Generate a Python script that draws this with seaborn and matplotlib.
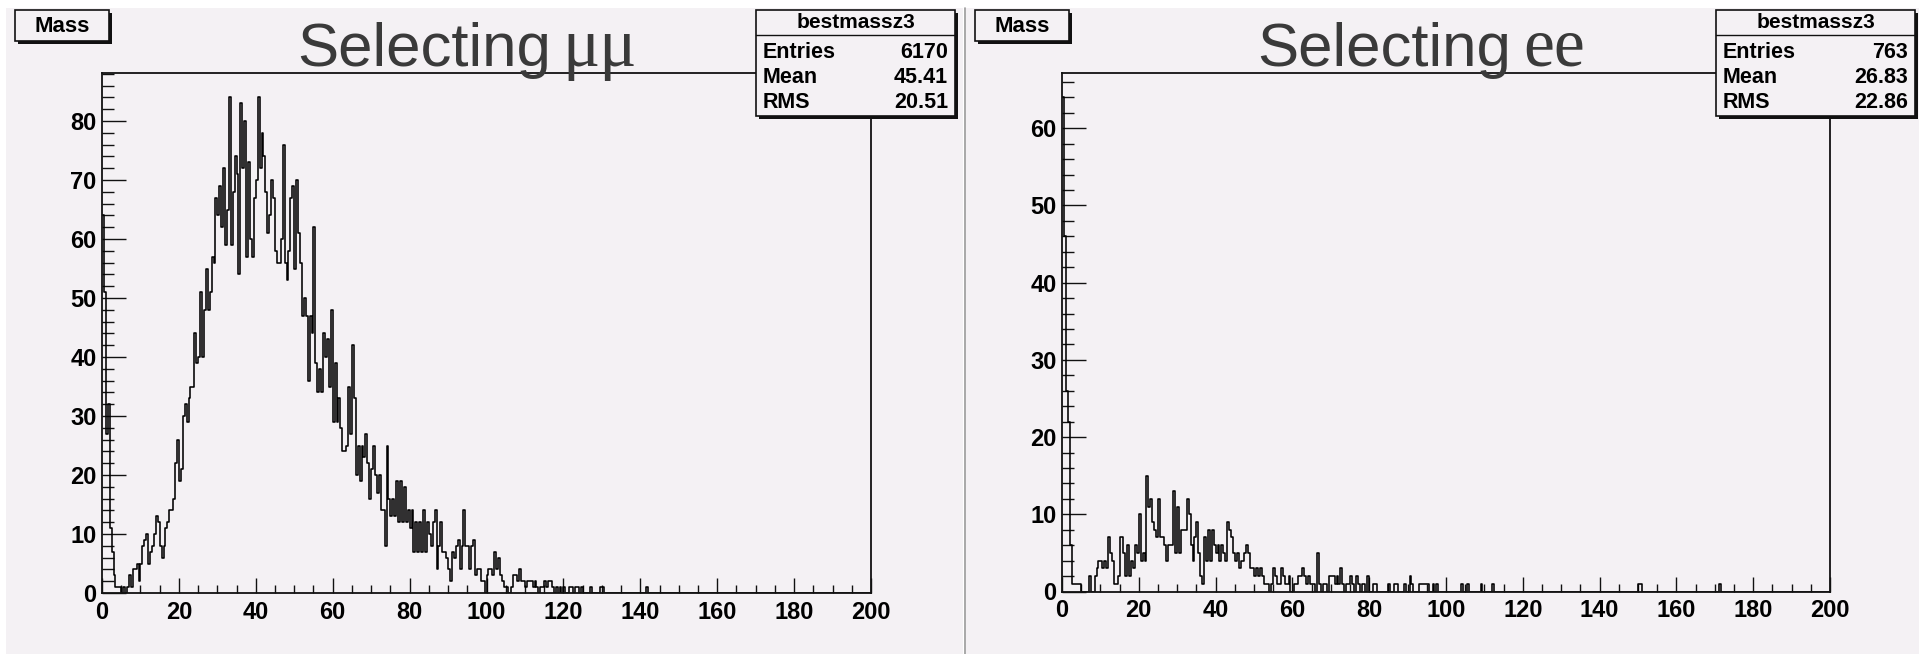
import numpy as np
import matplotlib
matplotlib.use("Agg")
import matplotlib.pyplot as plt
import seaborn as sns
from matplotlib.patches import Rectangle
from matplotlib.lines import Line2D
from matplotlib.ticker import MultipleLocator

# ---------------- data (counts per 0.5-wide bin, starting at 0) ----------------
bin_width = 0.5
x_range = (0, 200)

mumu_counts = [
    64, 51, 27, 32, 11, 7, 3, 1, 1, 1, 0, 1, 0, 1, 3, 1, 4, 4, 5, 2,
    5, 8, 9, 10, 5, 7, 8, 10, 13, 12, 8, 6, 8, 11, 12, 14, 14, 16, 22, 26,
    19, 21, 30, 32, 29, 33, 35, 35, 44, 39, 40, 51, 40, 48, 55, 48, 51, 57, 56, 67,
    64, 69, 62, 72, 59, 65, 84, 59, 68, 74, 71, 54, 83, 72, 80, 57, 73, 60, 57, 67,
    70, 84, 72, 78, 74, 68, 61, 64, 70, 67, 58, 56, 56, 60, 76, 56, 53, 58, 67, 69,
    55, 70, 61, 56, 47, 50, 47, 36, 47, 44, 62, 39, 34, 38, 34, 44, 40, 43, 35, 48,
    29, 39, 29, 33, 28, 24, 24, 25, 35, 27, 42, 33, 20, 25, 19, 25, 23, 27, 22, 16,
    21, 25, 20, 17, 20, 14, 14, 8, 25, 16, 13, 16, 13, 19, 12, 19, 12, 18, 12, 14,
    11, 14, 7, 12, 7, 12, 7, 14, 7, 12, 10, 8, 12, 14, 4, 8, 12, 7, 7, 6,
    4, 2, 7, 6, 8, 9, 4, 8, 14, 8, 8, 4, 8, 9, 3, 4, 4, 2, 2, 0,
    3, 4, 4, 3, 7, 4, 6, 3, 2, 1, 1, 0, 0, 1, 3, 3, 2, 4, 2, 2,
    1, 2, 2, 2, 1, 2, 1, 0, 1, 1, 2, 1, 2, 2, 1, 0, 1, 0, 1, 0,
    1, 0, 0, 1, 1, 0, 1, 1, 0, 1, 0, 0, 0, 0, 1, 0, 0, 0, 0, 1,
    1,
]
mumu_tail = [(141.5, 1)]

ee_counts = [
    64, 46, 26, 22, 6, 1, 1, 1, 1, 1, 0, 0, 0, 0, 2, 0, 0, 2, 3, 4,
    4, 3, 4, 3, 7, 5, 4, 1, 1, 2, 7, 7, 5, 2, 6, 2, 4, 3, 6, 5,
    10, 4, 5, 4, 15, 11, 12, 9, 8, 7, 12, 7, 7, 6, 4, 6, 6, 6, 13, 5,
    11, 5, 8, 8, 8, 12, 10, 6, 4, 7, 9, 5, 2, 1, 7, 4, 8, 4, 8, 6,
    5, 6, 4, 6, 5, 4, 9, 8, 7, 5, 4, 5, 3, 4, 4, 5, 6, 5, 3, 3,
    2, 3, 2, 3, 2, 1, 1, 1, 0, 1, 3, 2, 1, 1, 3, 2, 1, 1, 2, 0,
    0, 1, 1, 2, 2, 3, 2, 1, 2, 1, 1, 1, 0, 5, 1, 0, 1, 1, 0, 2,
    2, 2, 1, 2, 1, 3, 1, 0, 1, 1, 2, 1, 0, 2, 1, 0, 1, 1, 0, 2,
    0, 0, 1, 1, 0, 0, 0, 0, 0, 0, 1, 0, 0, 1, 1, 0, 0, 0, 1, 0,
    0, 2, 1, 0, 0, 0, 1, 1, 1, 1, 1, 0, 0, 1, 0, 1,
]
ee_tail = [(104.0, 1), (105.5, 1), (109.0, 1), (112.0, 1), (150.0, 1), (150.5, 1), (171.0, 1)]

title_main = ["Selecting", "Selecting"]
title_particles = ["\u03bc\u03bc", "ee"]
panel_name = "Mass"
stats_title = "bestmassz3"
stats_labels = ["Entries", "Mean", "RMS"]
mumu_stats = ["6170", "45.41", "20.51"]
ee_stats = ["763", "26.83", "22.86"]
y_tops = [88.2, 67.2]

# ---------------- helpers ----------------
W, H = 1919, 654
BG = "#f4f1f4"
sns.set_style("ticks")
plt.rcParams["font.family"] = ["Liberation Sans", "DejaVu Sans"]

fig = plt.figure(figsize=(W / 100, H / 100), dpi=100, facecolor="white")


def frect(x0, y0, x1, y1):
    return (x0 / W, 1 - y1 / H), (x1 - x0) / W, (y1 - y0) / H


def add_rect(x0, y0, x1, y1, fc, ec="none", lw=0, z=0):
    xy, w, h = frect(x0, y0, x1, y1)
    fig.patches.append(Rectangle(xy, w, h, transform=fig.transFigure,
                                 facecolor=fc, edgecolor=ec, linewidth=lw, zorder=z))


def fx(x):
    return x / W


def fy(y):
    return 1 - y / H


def full_counts(counts, tail):
    n = int(round((x_range[1] - x_range[0]) / bin_width))
    arr = np.zeros(n)
    arr[:len(counts)] = counts
    for edge, c in tail:
        arr[int(round(edge / bin_width))] = c
    return arr


# pads
add_rect(6, 8, 963, 654, BG, z=-5)
add_rect(966, 8, 1919, 654, BG, z=-5)
fig.lines.append(Line2D([fx(964.5), fx(964.5)], [fy(8), fy(654)], transform=fig.transFigure,
                        color="#9a9a9a", linewidth=1.2, zorder=-4))

datasets = [(mumu_counts, mumu_tail, mumu_stats), (ee_counts, ee_tail, ee_stats)]
axes_px = [(102, 72.7, 871, 593), (1062, 72.7, 1830, 591.5)]
offsets = [0, 960]

edges = np.linspace(x_range[0], x_range[1], int(round((x_range[1] - x_range[0]) / bin_width)) + 1)
centers = edges[:-1] + bin_width / 2

for i, (counts, tail, stats) in enumerate(datasets):
    x0, y0, x1, y1 = axes_px[i]
    ax = fig.add_axes([x0 / W, 1 - y1 / H, (x1 - x0) / W, (y1 - y0) / H])
    ax.set_zorder(1)
    ax.set_facecolor(BG)
    weights = full_counts(counts, tail)
    sns.histplot(x=centers, weights=weights, bins=len(centers), binrange=x_range,
                 element="step", fill=False, color="black", linewidth=1.15, ax=ax)
    ax.set_xlim(*x_range)
    ax.set_ylim(0, y_tops[i])
    ax.set_xlabel("")
    ax.set_ylabel("")
    for s in ax.spines.values():
        s.set_visible(True)
        s.set_color("#111111")
        s.set_linewidth(1.3)
    ax.xaxis.set_major_locator(MultipleLocator(20))
    ax.xaxis.set_minor_locator(MultipleLocator(5))
    ax.yaxis.set_major_locator(MultipleLocator(10))
    ax.yaxis.set_minor_locator(MultipleLocator(2))
    ax.tick_params(axis="x", which="major", direction="in", length=11, width=1.0,
                   pad=5.5, top=False, bottom=True, labelsize=17, color="#111111")
    ax.tick_params(axis="x", which="minor", direction="in", length=5.5, width=1.0,
                   top=False, bottom=True, color="#111111")
    ax.tick_params(axis="y", which="major", direction="in", length=17, width=1.0,
                   pad=4.0, left=True, right=False, labelsize=17, color="#111111")
    ax.tick_params(axis="y", which="minor", direction="in", length=8.3, width=1.0,
                   left=True, right=False, color="#111111")
    for lab in ax.get_xticklabels() + ax.get_yticklabels():
        lab.set_fontweight("bold")
        lab.set_color("black")

    off = offsets[i]
    # "Mass" box with shadow
    add_rect(15 + off + 3, 10 + 3, 109 + off + 3, 41 + 3, "#111111", z=5)
    add_rect(15 + off, 10, 109 + off, 41, BG, ec="#111111", lw=1.2, z=6)
    fig.text(fx(62 + off), fy(26), panel_name, ha="center", va="center",
             fontsize=16, fontweight="bold", color="black", zorder=7)

    # stats box with shadow
    bx0, by0, bx1, by1 = 756 + off, 10, 955 + off, 116
    add_rect(bx0 + 3, by0 + 3, bx1 + 3, by1 + 3, "#111111", z=5)
    add_rect(bx0, by0, bx1, by1, BG, ec="#111111", lw=1.2, z=6)
    fig.lines.append(Line2D([fx(bx0), fx(bx1)], [fy(35), fy(35)], transform=fig.transFigure,
                            color="#111111", linewidth=1.0, zorder=7))
    fig.text(fx((bx0 + bx1) / 2), fy(23), stats_title, ha="center", va="center",
             fontsize=15, fontweight="bold", color="black", zorder=8)
    for k, (lab, val) in enumerate(zip(stats_labels, stats)):
        yy = 52 + 25.5 * k
        fig.text(fx(bx0 + 7), fy(yy), lab, ha="left", va="center",
                 fontsize=15.5, fontweight="bold", color="black", zorder=8)
        fig.text(fx(bx1 - 7), fy(yy), val, ha="right", va="center",
                 fontsize=15.5, fontweight="bold", color="black", zorder=8)

    # title
    t1 = fig.text(fx(297 + off), fy(66), title_main[i], ha="left", va="baseline",
                  fontsize=44.5, color="#3a3a3a", zorder=8)
    fig.canvas.draw()
    ext = t1.get_window_extent()
    fig.text((ext.x1 + 12) / W, fy(66), title_particles[i], ha="left", va="baseline",
             fontsize=50, color="#3a3a3a", family=["Liberation Serif", "DejaVu Serif"], zorder=8)

fig.savefig("out.png", dpi=100, facecolor="white")
